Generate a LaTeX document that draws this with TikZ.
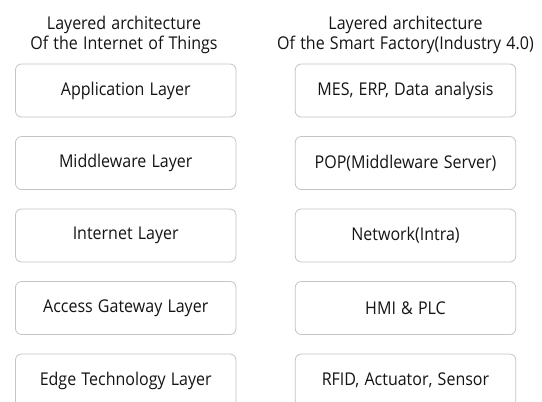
\documentclass[tikz,border=0pt]{standalone}
\usepackage{fontspec}
\setmainfont[FakeStretch=0.91,WordSpace={1.25}]{Open Sans}
\definecolor{boxline}{HTML}{C4C4C4}
\definecolor{ink}{HTML}{141414}
\tikzset{
  layerbox/.style={draw=boxline, line width=0.8bp, rounded corners=6bp,
    minimum width=220.5bp, minimum height=53bp, inner sep=0pt,
    text=ink, font=\fontsize{17.6bp}{20bp}\selectfont},
  heading/.style={align=center, text=ink, inner sep=0pt,
    font=\fontsize{17.6bp}{20.3bp}\selectfont}
}
\begin{document}
\begin{tikzpicture}[x=1bp, y=-1bp]
  \clip (0,0) rectangle (542,401);
  \fill[white] (0,0) rectangle (542,401);

  % column headings (anchored on the baseline of their second line)
  \node[heading, anchor=base] (hl) at (124,49.5)
    {Layered architecture\\Of the Internet of Things};
  \node[heading, anchor=base] (hr) at (405.5,49.5)
    {Layered architecture\\Of the Smart Factory(Industry 4.0)};

  % Internet of Things layers
  \node[layerbox] (l1) at (125.75, 90.5) {Application Layer};
  \node[layerbox] (l2) at (125.75,163.0) {Middleware Layer};
  \node[layerbox] (l3) at (125.75,235.5) {Internet Layer};
  \node[layerbox] (l4) at (125.75,308.0) {Access Gateway Layer};
  \node[layerbox] (l5) at (125.75,380.5) {Edge Technology Layer};

  % Smart Factory layers
  \node[layerbox] (r1) at (405.5, 90.5) {MES, ERP, Data analysis};
  \node[layerbox] (r2) at (405.5,163.0) {POP(Middleware Server)};
  \node[layerbox] (r3) at (405.5,235.5) {Network(Intra)};
  \node[layerbox] (r4) at (405.5,308.0) {HMI \& PLC};
  \node[layerbox] (r5) at (405.5,380.5) {RFID, Actuator, Sensor};
\end{tikzpicture}
\end{document}
